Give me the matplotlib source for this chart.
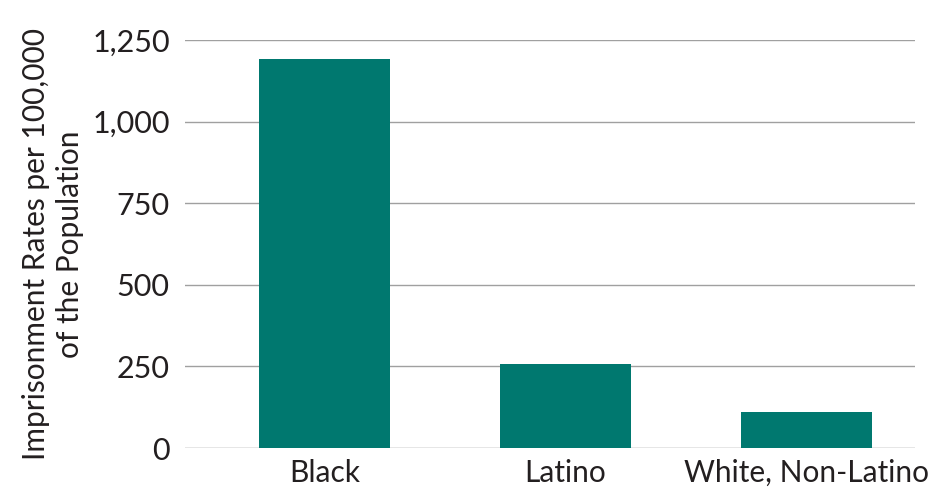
import matplotlib
matplotlib.use("Agg")
import matplotlib.pyplot as plt
from matplotlib.ticker import FuncFormatter

categories = ["Black", "Latino", "White, Non-Latino"]
rates = [1192, 257, 110]
yticks = [0, 250, 500, 750, 1000, 1250]

plt.rcParams['font.family'] = ['Lato', 'DejaVu Sans']
fig = plt.figure(figsize=(9.5, 4.96), dpi=100)
ax = fig.add_axes([185/950, 1-448/496, 730/950, 408/496])
x = list(range(len(categories)))
ax.bar(x, rates, width=0.544, color="#00786F", zorder=3)
ax.set_xlim(-0.579, 2.45)
ax.set_ylim(0, 1250)
ax.set_yticks(yticks)
ax.yaxis.set_major_formatter(FuncFormatter(lambda v, p: f"{int(v):,}"))
ax.set_xticks(x)
ax.set_xticklabels(categories)
ax.grid(axis='y', color="#a0a0a0", linewidth=1, zorder=0)
ax.get_ygridlines()[0].set_color("#808080")
for s in ax.spines.values():
    s.set_visible(False)
ax.tick_params(axis='y', length=0, labelsize=22, colors="#231f20", pad=11)
ax.tick_params(axis='x', length=0, labelsize=21.5, colors="#231f20", pad=8)
ax.set_ylabel("Imprisonment Rates per 100,000\nof the Population", fontsize=21.5, color="#231f20", linespacing=1.25)
ax.yaxis.set_label_coords(-101/730, 0.5)
fig.savefig("out.png", dpi=100)
